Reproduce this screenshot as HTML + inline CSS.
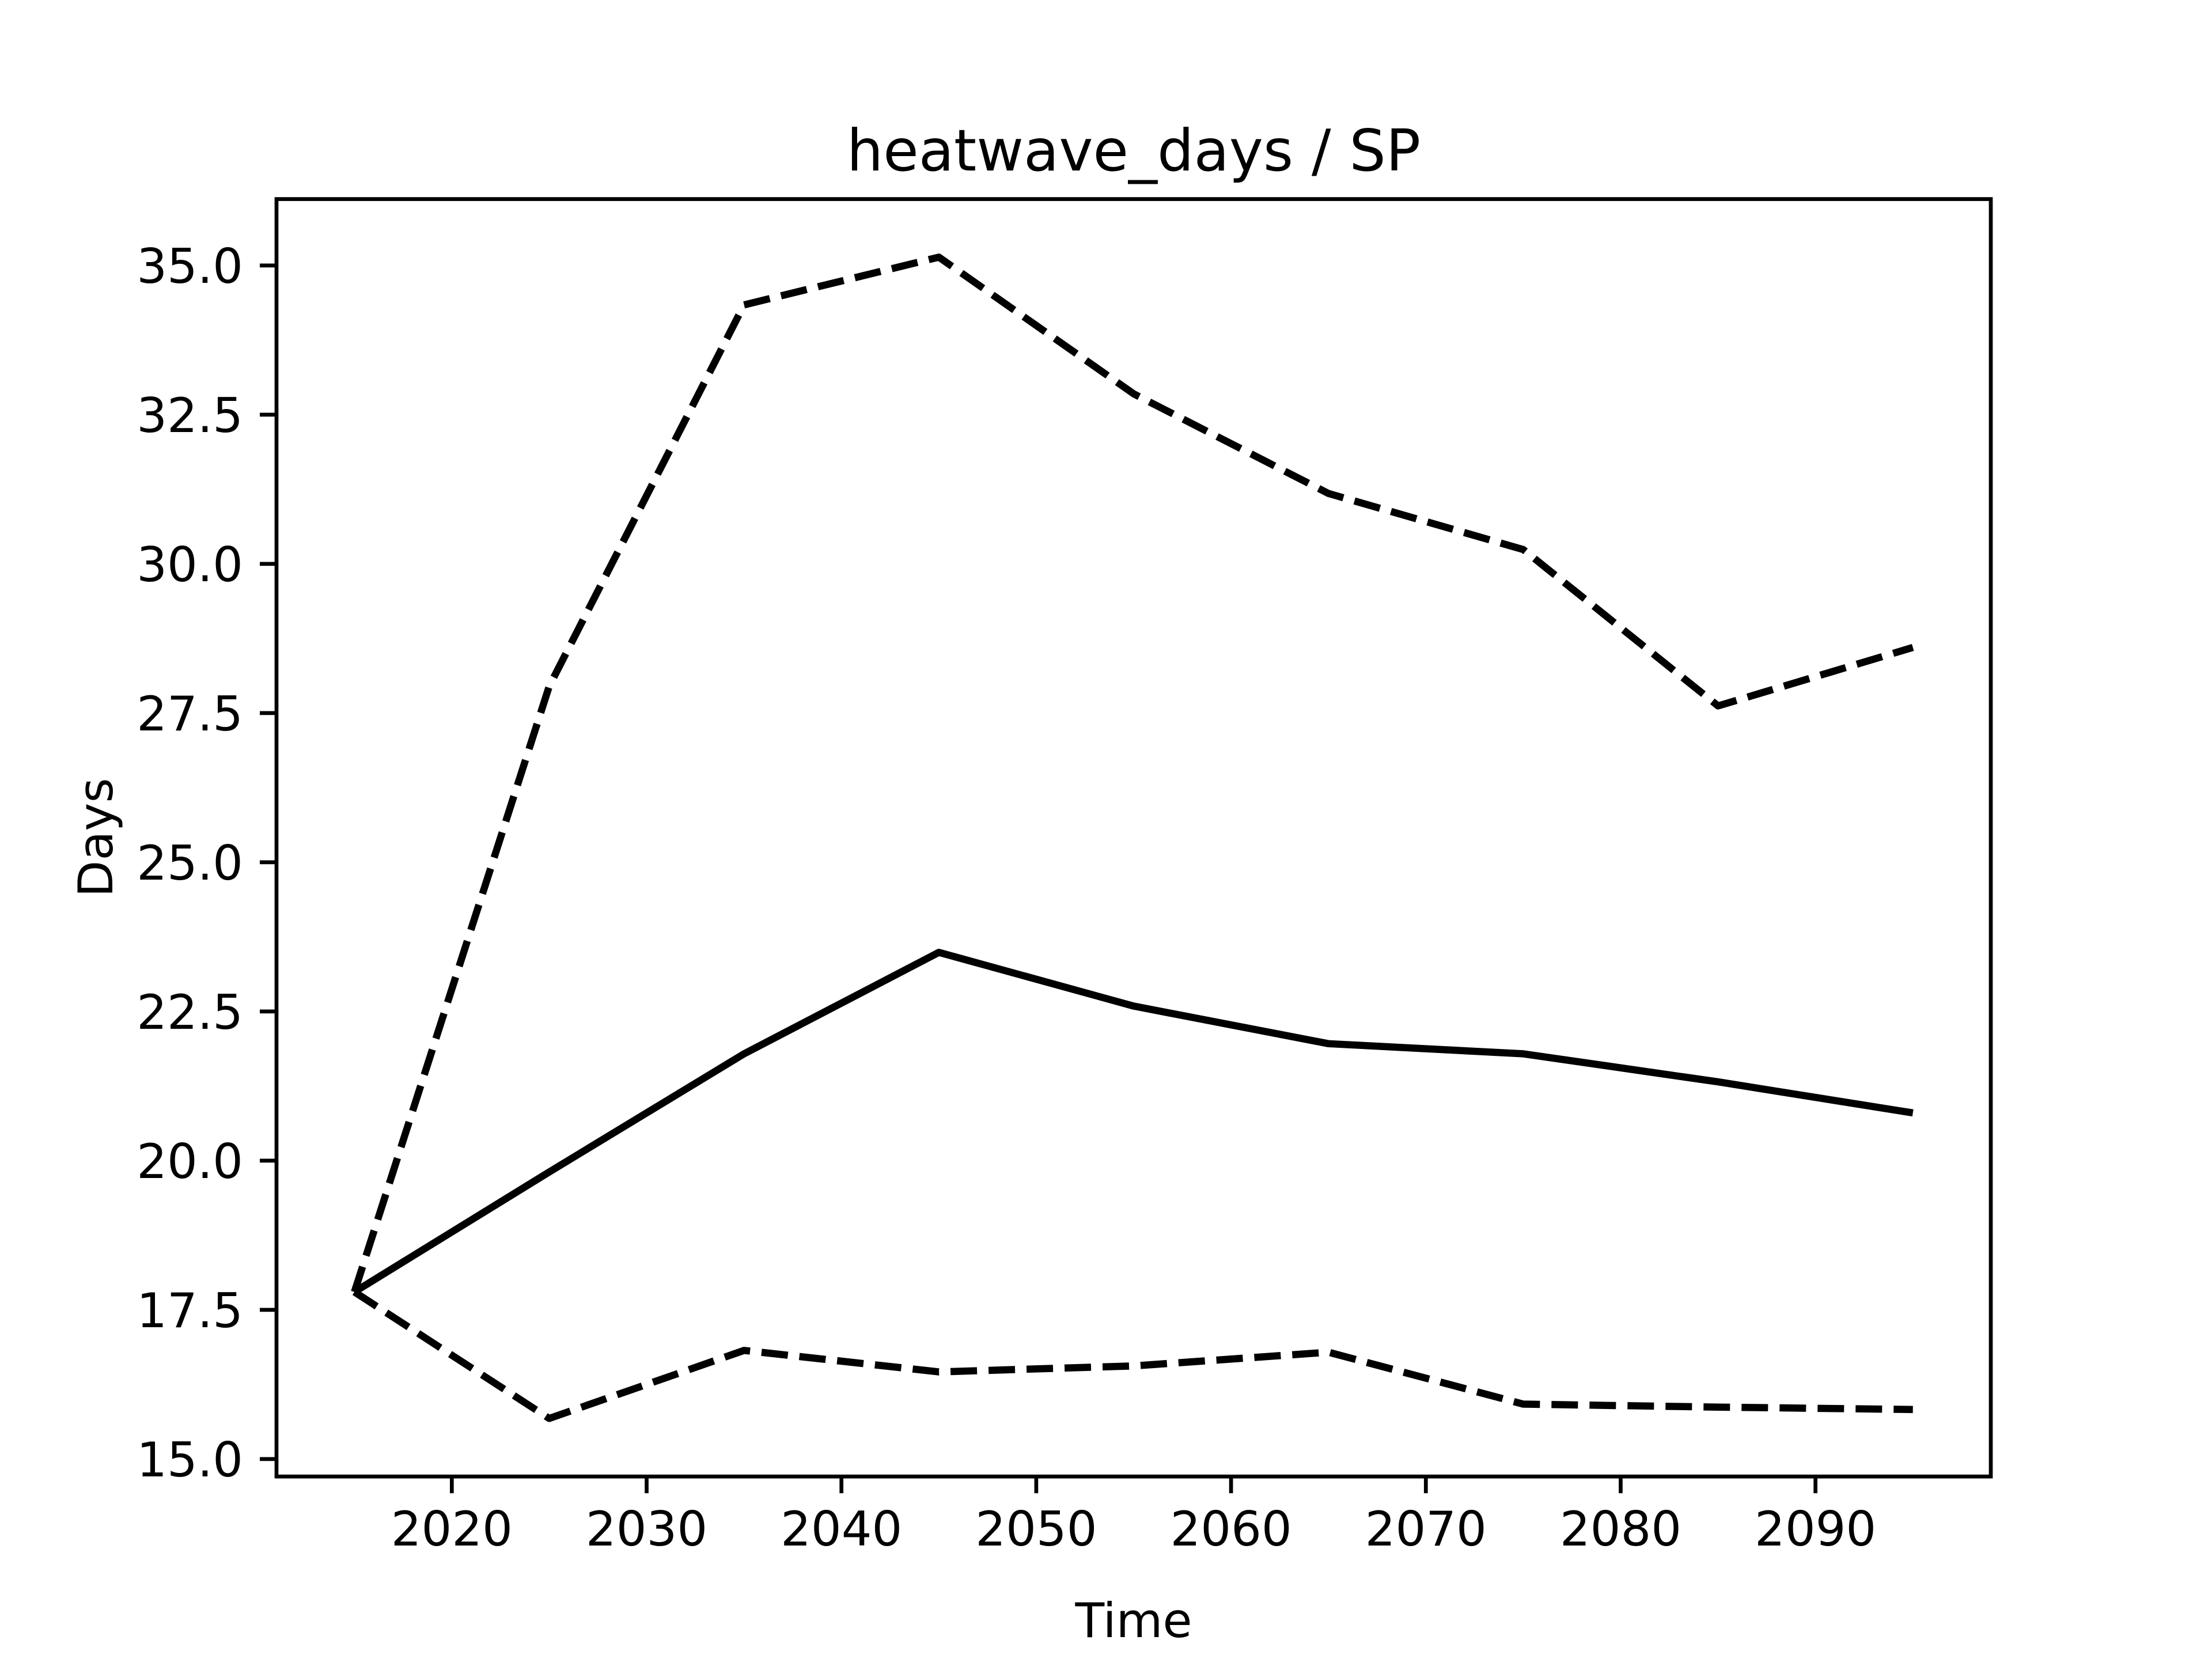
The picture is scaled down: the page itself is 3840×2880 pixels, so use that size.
<!DOCTYPE html>
<html><head><meta charset="utf-8"><style>
html,body{margin:0;padding:0;background:#fff;}
svg{display:block;}
text{font-family:"DejaVu Sans","Liberation Sans",sans-serif;fill:#000;}
</style></head><body>
<svg id="chart" width="3840" height="2880" viewBox="0 0 3840 2880" xmlns="http://www.w3.org/2000/svg">
<rect width="3840" height="2880" fill="#fff"/>
<text x="1968" y="296" font-size="100" text-anchor="middle">heatwave_days / SP</text>
<text x="1968" y="2842" font-size="83" text-anchor="middle">Time</text>
<text x="0" y="0" font-size="83" text-anchor="middle" transform="translate(195,1454) rotate(-90)">Days</text>
<g id="plot"></g>
<rect x="480" y="345.6" width="2976" height="2217.6" fill="none" stroke="#000" stroke-width="6.7"/>
</svg>
<script>
const years = [2015,2025,2035,2045,2055,2065,2075,2085,2095];
const meanVals = [17.8,19.81,21.79,23.49,22.59,21.96,21.79,21.32,20.80];
const upperVals = [17.8,27.95,34.34,35.14,32.85,31.18,30.24,27.62,28.6];
const lowerVals = [17.8,15.68,16.82,16.46,16.56,16.79,15.92,15.87,15.83];
const xTicks = [2020,2030,2040,2050,2060,2070,2080,2090];
const yTicks = [15.0,17.5,20.0,22.5,25.0,27.5,30.0,32.5,35.0];

const L=480,R=3456,T=345.6,B=2563.2;
const xmin=Math.min(...years),xmax=Math.max(...years);
const allV=[...meanVals,...upperVals,...lowerVals];
const ymin0=Math.min(...allV),ymax0=Math.max(...allV);
const xm=(xmax-xmin)*0.05, ym=(ymax0-ymin0)*0.05;
const x0=xmin-xm,x1=xmax+xm,y0=ymin0-ym,y1=ymax0+ym;
const sx=v=>L+(v-x0)/(x1-x0)*(R-L);
const sy=v=>B-(v-y0)/(y1-y0)*(B-T);
const NS='http://www.w3.org/2000/svg';
const g=document.getElementById('plot');
function mk(t,a){const e=document.createElementNS(NS,t);for(const k in a)e.setAttribute(k,a[k]);return e;}

xTicks.forEach(t=>{
  const x=sx(t);
  const ln=mk('line',{x1:x,x2:x,y1:B,y2:B+29,stroke:'#000','stroke-width':6.7});
  
  
  g.appendChild(ln);
  const tx=mk('text',{x:x,y:B+29+29+62,'font-size':83,'text-anchor':'middle'});
  tx.textContent=t;
  
  
  g.appendChild(tx);
});
yTicks.forEach(t=>{
  const y=sy(t);
  const ln=mk('line',{x1:L-29,x2:L,y1:y,y2:y,stroke:'#000','stroke-width':6.7});
  
  
  g.appendChild(ln);
  const tx=mk('text',{x:L-29-29,y:y+30,'font-size':83,'text-anchor':'end'});
  tx.textContent=t.toFixed(1);
  
  
  g.appendChild(tx);
});
function series(vals,name,dash){
  const pts=years.map((yr,i)=>sx(yr)+','+sy(vals[i])).join(' ');
  const a={points:pts,fill:'none',stroke:'#000','stroke-width':12.5,'stroke-linejoin':'round','stroke-linecap':'butt'};
  if(dash)a['stroke-dasharray']='46 20';
  const p=mk('polyline',a);
  
  
  g.appendChild(p);
}
series(upperVals,'upper-bound-line',true);
series(lowerVals,'lower-bound-line',true);
series(meanVals,'mean-line',false);
</script>
</body></html>
